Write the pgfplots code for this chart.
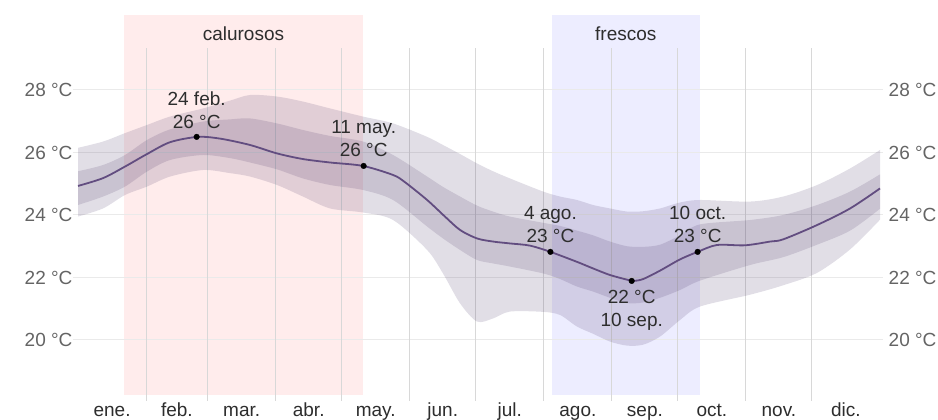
\documentclass[border=0pt]{standalone}
\usepackage{pgfplots}
\pgfplotsset{compat=1.18}
\usepackage{pgfplotstable}
\usepgfplotslibrary{fillbetween}
\usepackage{fontspec}
\setmainfont{Liberation Sans}

\definecolor{pinkbg}{RGB}{255,236,236}
\definecolor{bluebg}{RGB}{237,237,255}
\definecolor{bandc}{RGB}{70,50,100}
\definecolor{linec}{RGB}{98,77,128}
\definecolor{vgrid}{RGB}{216,216,216}
\definecolor{hgrid}{RGB}{234,234,234}
\definecolor{ticktxt}{RGB}{100,100,100}
\definecolor{txt}{RGB}{45,45,45}

\pgfplotstableread{
day ol il ih oh
0 23.95 24.32 25.40 26.15
11.4 24.21 24.59 25.60 26.35
21.4 24.64 24.91 25.92 26.62
31.4 24.91 25.39 26.40 26.88
41.9 25.23 25.76 26.74 27.15
56.9 25.44 25.92 26.99 27.41
69.2 25.34 25.82 27.06 27.66
78.3 25.23 25.68 27.09 27.84
90.6 24.96 25.46 26.93 27.79
102.4 24.59 25.17 26.72 27.63
114.7 24.21 24.96 26.53 27.41
129.7 24.08 24.80 26.35 27.15
143.4 23.84 24.48 25.92 26.93
158.9 22.88 23.63 25.23 26.50
166.1 22.13 23.25 24.90 26.24
173.9 21.17 22.88 24.59 25.95
181.6 20.59 22.56 24.30 25.65
188.9 20.69 22.45 24.11 25.40
196.6 20.91 22.35 23.95 25.17
211.7 20.90 22.13 23.75 24.75
219.4 20.80 21.95 23.65 24.59
227.1 20.43 21.71 23.50 24.48
234.4 20.20 21.55 23.35 24.32
242.1 19.95 21.35 23.15 24.21
249.9 19.82 21.18 23.00 24.11
257.2 19.85 21.20 22.98 24.12
264.9 20.11 21.35 23.05 24.21
274.0 20.64 21.60 23.35 24.40
283.1 21.07 21.90 23.70 24.48
305.9 21.45 22.40 23.84 24.43
320.9 21.75 22.65 24.00 24.59
336.4 22.15 23.05 24.32 24.96
351.4 22.90 23.50 24.75 25.49
365 23.85 24.20 25.30 26.08
}\bands

\pgfplotstableread{
day m
0 24.93
11.4 25.18
21.4 25.55
31.4 25.95
41.9 26.33
54.6 26.50
65 26.44
78.3 26.24
90.6 25.97
102.4 25.79
114.7 25.68
129.7 25.57
143.4 25.28
148.8 25.05
158.9 24.48
167 23.95
173.9 23.52
181.6 23.25
188.9 23.15
196.6 23.09
205.7 23.02
215 22.82
227.1 22.50
234.4 22.29
242.1 22.08
249.9 21.93
252.6 21.89
257.2 21.95
264.9 22.22
274.0 22.58
282 22.82
290.8 23.04
303.6 23.03
315 23.15
320.9 23.22
336.4 23.68
351.4 24.21
365 24.85
}\median

\begin{document}
\begin{tikzpicture}
\begin{axis}[
  set layers,
  at={(0pt,0pt)}, anchor=south west,
  scale only axis, width=802pt, height=386pt,
  xmin=0, xmax=365, ymin=18.048, ymax=30.4,
  clip=false,
  axis line style={draw=none},
  major tick length=0pt,
  font=\fontsize{19}{23}\selectfont,
  xtick={15.5,45,74.5,105,135.5,166,196.5,227.5,258,288.5,319,349.5},
  xticklabels={ene.,feb.,mar.,abr.,may.,jun.,jul.,ago.,sep.,oct.,nov.,dic.},
  xticklabel style={anchor=base, yshift=-16pt, text=txt, inner sep=0pt, text depth=0pt},
  ytick={20,22,24,26,28},
  yticklabels={20 °C,22 °C,24 °C,26 °C,28 °C},
  yticklabel style={text=ticktxt, xshift=-2pt},
]
% season bands and grid behind the data
\begin{pgfonlayer}{axis background}
\fill[pinkbg] (axis cs:20.9,18.24) rectangle (axis cs:129.7,30.4);
\fill[bluebg] (axis cs:215.7,18.24) rectangle (axis cs:283,30.4);
\end{pgfonlayer}
\begin{pgfonlayer}{axis grid}
\pgfplotsinvokeforeach{20,22,24,26,28}{
  \draw[hgrid, line width=1pt] (axis cs:-2.4,#1) -- (axis cs:366.4,#1);
}
\pgfplotsinvokeforeach{31,59,90,120,151,181,212,243,273,304,334}{
  \draw[vgrid, line width=1pt] (axis cs:#1,18.048) -- (axis cs:#1,29.344);
}
\end{pgfonlayer}
\node[anchor=base, text=txt] at (axis cs:75.3,29.57) {calurosos};
\node[anchor=base, text=txt] at (axis cs:249.3,29.57) {frescos};
% right tick labels
\pgfplotsinvokeforeach{20,22,24,26,28}{
  \node[anchor=west, text=ticktxt, inner sep=0pt] at (axis cs:365,#1) [xshift=8.5pt] {#1 °C};
}
% bands
\addplot[draw=none, name path=oh, smooth] table[x=day, y=oh] {\bands};
\addplot[draw=none, name path=ol, smooth] table[x=day, y=ol] {\bands};
\addplot[draw=none, name path=ih, smooth] table[x=day, y=ih] {\bands};
\addplot[draw=none, name path=il, smooth] table[x=day, y=il] {\bands};
\addplot[fill=bandc, fill opacity=0.16, draw=none] fill between[of=oh and ol];
\addplot[fill=bandc, fill opacity=0.16, draw=none] fill between[of=ih and il];
% median
\addplot[linec, line width=1.8pt, smooth] table[x=day, y=m] {\median};
% markers
\addplot[only marks, mark=*, mark size=2.8pt, black] coordinates {
  (54,26.50) (130,25.57) (215,22.82) (252,21.89) (282,22.82)};
% annotations
\node[anchor=south, inner sep=0pt, align=center, text=txt] at (axis cs:54,26.50) [yshift=8pt] {24 feb.\\26 °C};
\node[anchor=south, inner sep=0pt, align=center, text=txt] at (axis cs:130,25.57) [yshift=9pt] {11 may.\\26 °C};
\node[anchor=south, inner sep=0pt, align=center, text=txt] at (axis cs:215,22.82) [yshift=9pt] {4 ago.\\23 °C};
\node[anchor=south, inner sep=0pt, align=center, text=txt] at (axis cs:282,22.82) [yshift=9pt] {10 oct.\\23 °C};
\node[anchor=north, inner sep=0pt, align=center, text=txt] at (axis cs:252,21.89) [yshift=-9pt] {22 °C\\10 sep.};
\end{axis}
\path (-78pt,-19pt) rectangle (860pt,401pt);
\end{tikzpicture}
\end{document}
